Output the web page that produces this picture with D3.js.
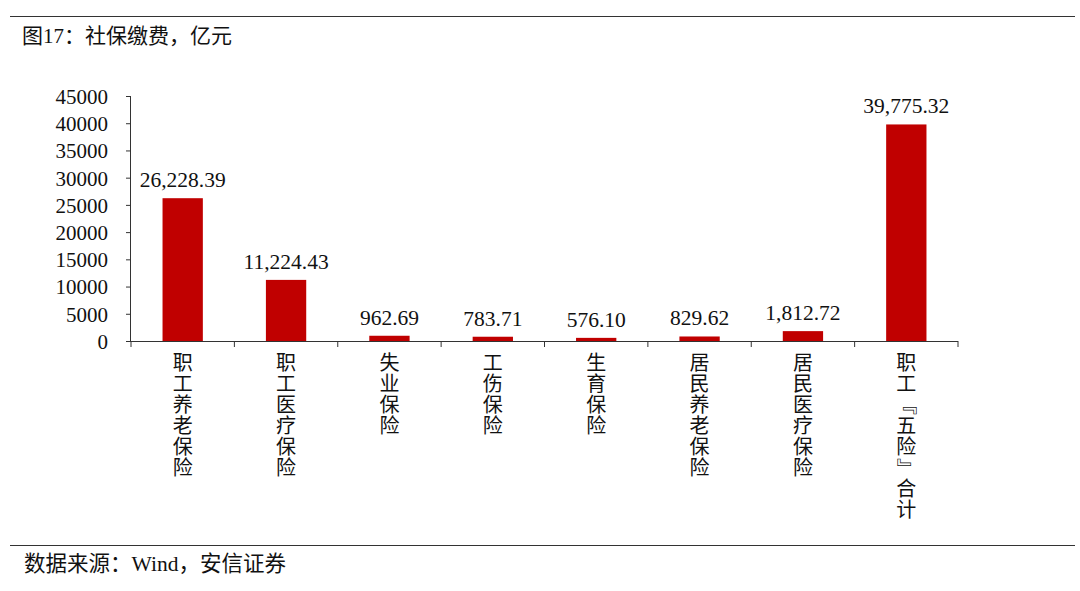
<!DOCTYPE html>
<html><head><meta charset="utf-8">
<script src="https://cdn.jsdelivr.net/npm/d3@7/dist/d3.min.js"></script>
<style>
body{margin:0;background:#fff;}
svg text{font-family:"Liberation Serif","Noto Sans CJK SC",serif;fill:#111;}
</style></head>
<body><svg id="c" width="1080" height="591"></svg>
<script>
const categories = ["职工养老保险","职工医疗保险","失业保险","工伤保险","生育保险","居民养老保险","居民医疗保险","职工『五险』合计"];
const values = [26228.39, 11224.43, 962.69, 783.71, 576.10, 829.62, 1812.72, 39775.32];
const yTicks = [0,5000,10000,15000,20000,25000,30000,35000,40000,45000];
const title = "图17：社保缴费，亿元";
const source = "数据来源：Wind，安信证券";

const svg = d3.select("#c");
const L = 131, R = 958, T = 96, B = 341;
const x = d3.scaleBand().domain(categories).range([L, R]).paddingInner(0.61).paddingOuter(0.305);
const y = d3.scaleLinear().domain([0,45000]).range([B, T]);

svg.append("line").attr("x1",10).attr("x2",1075).attr("y1",16.5).attr("y2",16.5).attr("stroke","#333").attr("stroke-width",1.2);
svg.append("text").attr("x",22).attr("y",43).attr("font-size",21).text(title);

svg.append("line").attr("x1",10).attr("x2",1075).attr("y1",545.5).attr("y2",545.5).attr("stroke","#333").attr("stroke-width",1.2);
svg.append("text").attr("x",24).attr("y",571).attr("font-size",21.5).text(source);

// y axis
const ya = svg.append("g").attr("transform",`translate(${L},0)`)
  .call(d3.axisLeft(y).tickValues(yTicks).tickSize(5).tickPadding(18).tickFormat(d3.format("d")));
ya.select(".domain").attr("stroke","#333").attr("d",`M-0.5,${T}V${B}`);
ya.selectAll(".tick line").attr("stroke","#333");
ya.selectAll(".tick text").attr("font-size",21).attr("font-family","Liberation Serif").attr("fill","#111").attr("dy","0.35em");

// bars
svg.selectAll("rect.bar").data(values).enter().append("rect")
  .attr("x",(d,i)=>x(categories[i])).attr("width",x.bandwidth())
  .attr("y",d=>y(d)).attr("height",d=>B-y(d)).attr("fill","#C00000");

// value labels
const fmt = d3.format(",.2f");
svg.selectAll("text.val").data(values).enter().append("text")
  .attr("x",(d,i)=>x(categories[i])+x.bandwidth()/2).attr("y",d=>y(d)-11)
  .attr("text-anchor","middle").attr("font-size",21.5).text(d=>fmt(d));

// x axis
svg.append("line").attr("x1",L).attr("x2",R).attr("y1",B+0.5).attr("y2",B+0.5).attr("stroke","#333");
const step = x.step();
d3.range(categories.length+1).forEach(i=>{
  const xx = L + i*step;
  svg.append("line").attr("x1",xx).attr("x2",xx).attr("y1",B).attr("y2",B+6).attr("stroke","#333");
});

// vertical category labels: one character per cell, corner brackets turned 90°
const lineH = 21, y0 = 363;
categories.forEach(cat => {
  const cx = x(cat) + x.bandwidth()/2;
  const g = svg.append("g").attr("class","cat");
  Array.from(cat).forEach((ch, i) => {
    const cy = y0 + i*lineH;
    const t = g.append("text")
      .attr("x", cx).attr("y", cy)
      .attr("text-anchor","middle").attr("dominant-baseline","central")
      .attr("font-size",20).attr("font-family","Noto Sans CJK SC")
      .attr("fill","#222").text(ch);
    if (ch === "『" || ch === "』") t.attr("transform",`rotate(90,${cx},${cy})`);
  });
});
</script></body></html>
